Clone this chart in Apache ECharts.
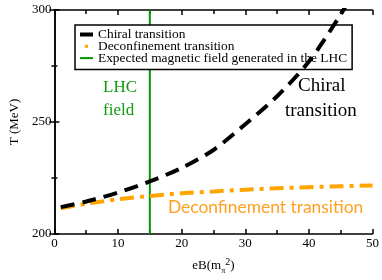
<!DOCTYPE html>
<html><head><meta charset="utf-8">
<script src="https://cdn.jsdelivr.net/npm/echarts@6/dist/echarts.min.js"></script>
<style>html,body{margin:0;padding:0;background:#fff}#c{width:382px;height:280px}</style>
</head><body><div id="c"></div>
<script>
var chiralX = [1, 5, 10, 15, 20, 25, 30, 35, 40, 45, 47];
var chiralT = [212, 214.5, 218.5, 223.5, 229.5, 237.5, 249, 261.5, 277, 298, 308];
var deconfX = [1, 5, 10, 15, 20, 25, 30, 35, 40, 45, 50];
var deconfT = [211.5, 213.5, 215.5, 217, 218.2, 219, 219.8, 220.4, 220.9, 221.3, 221.7];
var lhcX = [15, 15];
var lhcT = [200, 300];
var xTicks = [0, 10, 20, 30, 40, 50];
var yTicks = [200, 250, 300];
var seriesNames = ['Chiral transition', 'Deconfinement transition', 'Expected magnetic field generated in the LHC'];

function pairs(xs, ys) { return xs.map(function (x, i) { return [x, ys[i]]; }); }
var serif = 'Liberation Serif';
var chart = echarts.init(document.getElementById('c'), null, {renderer: 'canvas'});
var gridL = 42, gridT = 10, gridR = 9, gridB = 41;
chart.setOption({
  animation: false,
  backgroundColor: '#fff',
  grid: {left: gridL, top: gridT, right: gridR, bottom: gridB},
  legend: {
    orient: 'vertical', left: 75, top: 25,
    backgroundColor: '#fff', borderColor: '#000', borderWidth: 1.5, borderRadius: 0,
    padding: [3, 5, 5, 5], itemGap: -1.2, itemWidth: 13, itemHeight: 4,
    textStyle: {fontFamily: serif, fontSize: 13.4, color: '#000'},
    data: [
      {name: seriesNames[0], icon: 'rect', itemStyle: {color: '#000'}},
      {name: seriesNames[1], icon: 'path://M0,0h0.01v0.01h-0.01z M5,0.5h3v3h-3z M13,4h0.01v0.01h-0.01z', itemStyle: {color: '#ffa500'}},
      {name: seriesNames[2], icon: 'path://M0,1h13v2h-13z', itemStyle: {color: '#009900'}}
    ]
  },
  xAxis: [{
    type: 'value', min: 0, max: 50, interval: 10, position: 'bottom',
    axisLine: {lineStyle: {color: '#000', width: 1.5}},
    axisTick: {inside: true, length: 5, lineStyle: {color: '#000', width: 1.5}},
    minorTick: {show: true, splitNumber: 2, length: 4, lineStyle: {color: '#000', width: 1.5}},
    splitLine: {show: false},
    axisLabel: {fontFamily: serif, fontSize: 13, color: '#000', margin: 3},
    name: '{a|eB(m}{sub|π}{sup|2}{a|)}', nameLocation: 'middle', nameGap: 23,
    nameTextStyle: {fontFamily: serif, fontSize: 13, color: '#000',
      rich: {a: {fontFamily: serif, fontSize: 13, color: '#000'},
             sub: {fontFamily: serif, fontSize: 8, color: '#000', verticalAlign: 'bottom', padding: [6, 0, 0, 0]},
             sup: {fontFamily: serif, fontSize: 10, color: '#000', verticalAlign: 'top', padding: [0, 0, 8, 0]}}}
  }, {
    type: 'value', min: 0, max: 50, interval: 10, position: 'top',
    axisLine: {lineStyle: {color: '#000', width: 1.5}},
    axisTick: {inside: true, length: 5, lineStyle: {color: '#000', width: 1.5}},
    minorTick: {show: true, splitNumber: 2, length: 4, lineStyle: {color: '#000', width: 1.5}},
    splitLine: {show: false}, axisLabel: {show: false}
  }],
  yAxis: [{
    type: 'value', min: 200, max: 300, interval: 50, position: 'left',
    axisLine: {lineStyle: {color: '#000', width: 1.5}},
    axisTick: {inside: true, length: 5, lineStyle: {color: '#000', width: 1.5}},
    minorTick: {show: true, splitNumber: 2, length: 3, lineStyle: {color: '#000', width: 1.5}},
    splitLine: {show: false},
    axisLabel: {fontFamily: serif, fontSize: 13, color: '#000', margin: 3},
    name: 'T (MeV)', nameLocation: 'middle', nameGap: 32, nameRotate: 90,
    nameTextStyle: {fontFamily: serif, fontSize: 13, color: '#000'}
  }, {
    type: 'value', min: 200, max: 300, interval: 50, position: 'right',
    axisLine: {lineStyle: {color: '#000', width: 1.5}},
    axisTick: {inside: true, length: 5, lineStyle: {color: '#000', width: 1.5}},
    minorTick: {show: true, splitNumber: 2, length: 3, lineStyle: {color: '#000', width: 1.5}},
    splitLine: {show: false}, axisLabel: {show: false}
  }],
  series: [
    {name: seriesNames[2], type: 'line', data: pairs(lhcX, lhcT), symbol: 'none', z: 2,
     lineStyle: {color: '#009900', width: 2}, itemStyle: {color: '#009900'}},
    {name: seriesNames[1], type: 'line', data: pairs(deconfX, deconfT), symbol: 'none', smooth: 0.3, z: 3,
     lineStyle: {color: '#ffa500', width: 4, type: [14, 6, 4, 6], cap: 'butt'}, itemStyle: {color: '#ffa500'}},
    {name: seriesNames[0], type: 'line', data: pairs(chiralX, chiralT), symbol: 'none', smooth: 0.3, z: 4, clip: true,
     lineStyle: {color: '#000', width: 4, type: [14, 8], cap: 'butt'}, itemStyle: {color: '#000'}}
  ],
  graphic: [
    {type: 'text', left: 103, top: 79, style: {text: 'LHC', fontFamily: serif, fontSize: 17, fill: '#109a10'}},
    {type: 'text', left: 103, top: 102, style: {text: 'field', fontFamily: serif, fontSize: 17, fill: '#109a10'}},
    {type: 'text', left: 298, top: 77, style: {text: 'Chiral', fontFamily: serif, fontSize: 19, fill: '#000'}},
    {type: 'text', left: 285, top: 102, style: {text: 'transition', fontFamily: serif, fontSize: 19, fill: '#000'}},
    {type: 'text', left: 168, top: 199, style: {text: 'Deconfinement transition', fontFamily: 'Lato', fontSize: 17.4, fill: '#ffa020'}}
  ]
});
</script></body></html>
